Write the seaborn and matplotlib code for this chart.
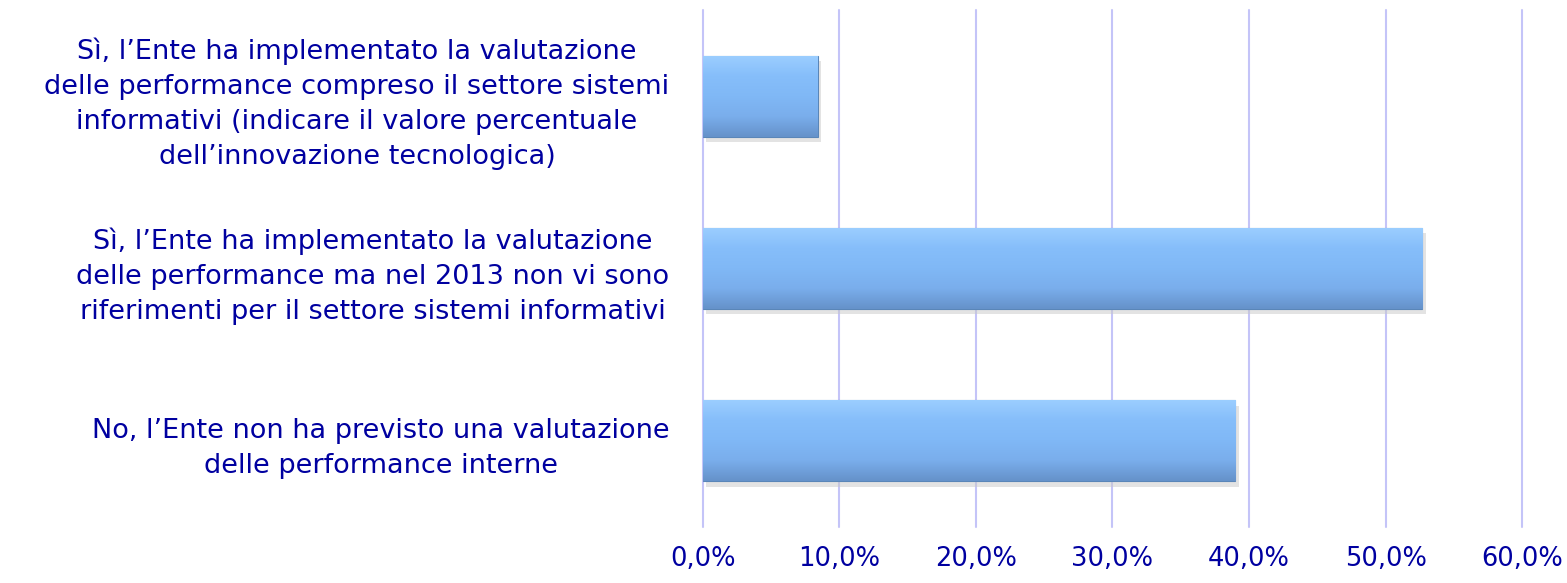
import numpy as np
import pandas as pd
import matplotlib
matplotlib.use("Agg")
import matplotlib.pyplot as plt
import seaborn as sns
from matplotlib.ticker import FuncFormatter

categories = [
    "Sì, l’Ente ha implementato la valutazione\ndelle performance compreso il settore sistemi\ninformativi (indicare il valore percentuale\ndell’innovazione tecnologica)",
    "Sì, l’Ente ha implementato la valutazione\ndelle performance ma nel 2013 non vi sono\nriferimenti per il settore sistemi informativi",
    "No, l’Ente non ha previsto una valutazione\ndelle performance interne",
]
values = [8.4, 52.7, 39.0]
xticks = [0, 10, 20, 30, 40, 50, 60]

text_color = "#0000A0"
grid_color = "#C4C4F8"

sns.set_theme(style="white")
plt.rcParams["font.family"] = ["DejaVu Sans"]

df = pd.DataFrame({"cat": categories, "val": values})

fig = plt.figure(figsize=(15.67, 5.83), dpi=100)
ax = fig.add_axes([0.4486, 0.096, 0.5227, 0.887])

sns.barplot(data=df, x="val", y="cat", orient="h", color="#80B8F8",
            width=0.47, edgecolor="#5A86B8", linewidth=0.8, ax=ax, zorder=3)

# gradient + bevel look on each bar
grad = np.linspace(0, 1, 100).reshape(-1, 1)
cmap = matplotlib.colors.LinearSegmentedColormap.from_list(
    "bar", ["#9CCEFF", "#86BEFA", "#80B8F6", "#7AAEEC", "#6592CA"])
for p in ax.patches:
    x0, y0 = p.get_x(), p.get_y()
    w, h = p.get_width(), p.get_height()
    im = ax.imshow(grad, extent=[x0, x0 + w, y0 + h, y0], aspect="auto",
                   cmap=cmap, zorder=4, interpolation="bicubic")
    im.set_clip_path(p)
    # subtle shadow
    sh = plt.Rectangle((x0 + 0.25, y0 + 0.03), w, h, color="#C8C8C8",
                       alpha=0.5, zorder=2, lw=0)
    ax.add_patch(sh)

ax.set_xlim(0, 60)
ax.set_ylim(2.5, -0.5)
ax.set_xticks(xticks)
ax.xaxis.set_major_formatter(FuncFormatter(lambda v, _: f"{v:.1f}%".replace(".", ",")))
ax.grid(axis="x", color=grid_color, linewidth=1.5, zorder=0)
ax.grid(axis="y", visible=False)
for gl in ax.get_xgridlines():
    gl.set_clip_on(False)
for s in ax.spines.values():
    s.set_visible(False)

ax.set_xlabel("")
ax.set_ylabel("")
ax.tick_params(axis="x", length=0, pad=14, labelsize=18.5, labelcolor=text_color)
ax.tick_params(axis="y", length=0, pad=24, labelsize=19.5, labelcolor=text_color)
for lbl in ax.get_yticklabels():
    lbl.set_multialignment("center")
    lbl.set_linespacing(1.45)

fig.savefig("out.png", dpi=100)
